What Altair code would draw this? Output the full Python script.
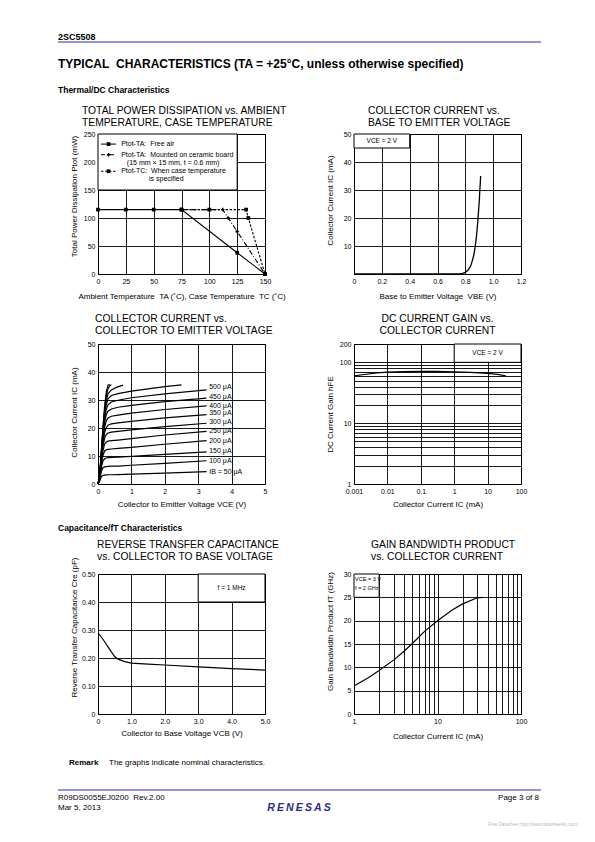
import altair as alt
import pandas as pd

FONT = "Liberation Sans"
NAVY = "#2b2b8c"
W, H = 167, 140
NB = "\u00a0"

# ---------------- data ----------------
# 1. Total power dissipation vs temperature
temp_free = [0, 25, 50, 75, 125, 150]
ptot_free = [115, 115, 115, 115, 38, 0]
temp_ceramic = [75, 112, 117, 125, 150]
ptot_ceramic = [115, 115, 100, 76, 0]
temp_case = [75, 100, 133, 135, 150]
ptot_case = [115, 115, 115, 100, 0]
legend_texts = ["Ptot-TA:" + NB + NB + "Free air", "Ptot-TA:" + NB + NB + "Mounted on ceramic board",
                "(15 mm \u00d7 15 mm, t = 0.6 mm)", "Ptot-TC:" + NB + NB + "When case temperature",
                "is specified"]

# 2. IC vs VBE
vbe = [0, 0.76, 0.78, 0.80, 0.82, 0.84, 0.86, 0.87, 0.88, 0.89, 0.90, 0.91]
ic_vbe = [0, 0, 0.2, 0.6, 1.4, 3.0, 6.5, 9.5, 13.5, 19, 26, 35]

# 3. IC vs VCE family (IB in uA)
vce = [0, 0.05, 0.1, 0.15, 0.2, 0.25, 0.3, 0.4, 0.6, 1.0, 2.0, 3.25]
ic_50 = [0, 1.0, 2.6, 3.1, 3.2, 3.25, 3.3, 3.3, 3.35, 3.5, 3.9, 4.4]
ic_100 = [0, 1.5, 4.5, 5.8, 6.1, 6.2, 6.3, 6.35, 6.4, 6.7, 7.4, 8.3]
ic_150 = [0, 1.8, 6.0, 8.3, 9.0, 9.3, 9.4, 9.5, 9.6, 9.9, 10.6, 11.5]
ic_200 = [0, 2.0, 7.0, 10.3, 11.8, 12.2, 12.4, 12.5, 12.7, 13.1, 14.2, 15.5]
ic_250 = [0, 2.2, 7.8, 12.0, 14.3, 15.0, 15.3, 15.5, 15.7, 16.2, 17.5, 18.8]
ic_300 = [0, 2.4, 8.5, 13.5, 16.5, 17.7, 18.2, 18.5, 18.8, 19.3, 20.5, 21.7]
ic_350 = [0, 2.5, 9.0, 14.8, 18.5, 20.2, 21.0, 21.5, 21.8, 22.4, 23.6, 24.8]
ic_400 = [0, 2.6, 9.5, 16.0, 20.5, 22.6, 23.6, 24.2, 24.6, 25.3, 26.6, 27.9]
ic_450 = [0, 2.7, 10.0, 17.0, 22.2, 24.8, 26.0, 26.8, 27.4, 28.1, 29.4, 30.7]
ic_500 = [0, 2.8, 10.4, 17.8, 23.6, 26.8, 28.3, 29.3, 29.9, 30.8, 32.2, 33.6]
vce_550 = [0, 0.05, 0.1, 0.15, 0.2, 0.25, 0.3, 0.4, 0.6, 1.0, 2.0, 2.5]
ic_550 = [0, 2.9, 10.8, 18.5, 24.8, 28.5, 30.4, 31.6, 32.3, 33.2, 34.8, 35.4]
vce_600 = [0, 0.05, 0.1, 0.15, 0.2, 0.25, 0.3, 0.4, 0.55, 0.75]
ic_600 = [0, 3.0, 11.2, 19.2, 26.0, 30.0, 32.2, 33.6, 34.5, 35.3]
vce_650 = [0, 0.05, 0.1, 0.15, 0.2, 0.25, 0.3, 0.35, 0.4]
ic_650 = [0, 3.1, 11.5, 19.8, 27.0, 31.5, 34.0, 35.0, 35.5]
vce_700 = [0, 0.05, 0.1, 0.15, 0.2, 0.25, 0.3, 0.35]
ic_700 = [0, 3.2, 11.8, 20.4, 28.0, 33.0, 35.3, 35.6]
ib_labels = ["500 \u03bcA", "450 \u03bcA", "400 \u03bcA", "350 \u03bcA", "300 \u03bcA",
             "250 \u03bcA", "200 \u03bcA", "150 \u03bcA", "100 \u03bcA", "IB = 50 \u03bcA"]
ib_label_ic = [34.5, 31.2, 28.0, 25.2, 22.3, 19.0, 15.5, 11.9, 8.3, 4.2]

# 4. hFE vs IC
hfe_ic = [0.001, 0.002, 0.005, 0.01, 0.03, 0.1, 0.3, 1, 3, 10, 20, 35]
hfe = [60, 63, 67, 69, 70.5, 71, 71, 70, 68.5, 66, 63.5, 60]

# 5. Cre vs VCB
vcb = [0, 0.1, 0.2, 0.3, 0.4, 0.5, 0.6, 0.8, 1.0, 1.5, 2, 3, 4, 5]
cre = [0.29, 0.275, 0.258, 0.24, 0.222, 0.205, 0.196, 0.187, 0.182, 0.178, 0.175, 0.168, 0.162, 0.157]

# 6. fT vs IC
ft_ic = [1, 1.5, 2, 3, 4, 5, 7, 10, 15, 20, 30, 35]
ft = [6.0, 7.8, 9.3, 11.6, 13.5, 15.1, 17.7, 20.0, 22.3, 23.6, 24.9, 25.0]

# ---------------- helpers ----------------
AX = dict(grid=True, gridColor="black", gridWidth=0.9, gridOpacity=1, domain=False, ticks=False,
          labelFont=FONT, labelFontSize=7, labelColor="black", labelPadding=3, labelFlush=False,
          labelOverlap=False, labelBound=False, titleFont=FONT, titleFontSize=8,
          titleFontWeight="normal", titleColor="black")


def xaxis(vals, title, ty, expr=None):
    kw = dict(AX, values=vals, title=title, titleY=ty, titleBaseline="middle")
    if expr:
        kw["labelExpr"] = expr
    return alt.Axis(**kw)


def yaxis(vals, title, ty, expr=None):
    kw = dict(AX, values=vals, title=title, titleX=-24, titleY=ty, titleBaseline="middle",
              titleAngle=270)
    if expr:
        kw["labelExpr"] = expr
    return alt.Axis(**kw)


def ttl(lines, dx, offset, anchor="start"):
    return alt.TitleParams(text=lines, anchor=anchor, dx=dx, offset=offset, frame="group",
                           font=FONT, fontSize=10.3, fontWeight="normal", color="black",
                           lineHeight=11.5)


def df(xs, ys):
    return pd.DataFrame({"x": xs, "y": ys})


def box(xe, ye, x0, x1, y0, y1):
    d = pd.DataFrame({"x": [x0], "x2": [x1], "y": [y0], "y2": [y1]})
    return alt.Chart(d).mark_rect(fill="white", stroke="black", strokeWidth=1).encode(
        x=xe, x2="x2:Q", y=ye, y2="y2:Q")


def labels(xe, ye, xs, ys, ts, size=7, align="left"):
    d = pd.DataFrame({"x": xs, "y": ys, "t": ts})
    return alt.Chart(d).mark_text(align=align, baseline="middle", font=FONT, fontSize=size,
                                  color="black").encode(x=xe, y=ye, text="t:N")


def curve(xe, ye, xs, ys, width=1.2, dash=None):
    kw = dict(color="black", strokeWidth=width)
    if dash:
        kw["strokeDash"] = dash
    return alt.Chart(df(xs, ys)).mark_line(**kw).encode(x=xe, y=ye)


one = pd.DataFrame({"k": [0]})
HIDDEN = alt.ViewBackground(stroke="transparent")


def txt(s, x, y, size=8, weight="normal", align="left", color="black", style="normal"):
    return alt.Chart(one).mark_text(text=s, align=align, baseline="alphabetic", font=FONT,
                                    fontSize=size, fontWeight=weight, color=color,
                                    fontStyle=style).encode(x=alt.value(x), y=alt.value(y))


def hline(x0, x1, y):
    return alt.Chart(one).mark_rule(color=NAVY, strokeWidth=1).encode(
        x=alt.value(x0), x2=alt.value(x1), y=alt.value(y))


def blank(h):
    return alt.layer(txt(NB, 10, 20)).properties(width=W, height=h, view=HIDDEN)


# ---------------- chart 1 ----------------
x1 = alt.X("x:Q", scale=alt.Scale(domain=[0, 150], nice=False),
           axis=xaxis([0, 25, 50, 75, 100, 125, 150],
                      "Ambient Temperature" + NB + NB + "TA (\u02daC), Case Temperature" + NB + NB + "TC (\u02daC)", 22))
y1 = alt.Y("y:Q", scale=alt.Scale(domain=[0, 250], nice=False),
           axis=yaxis([0, 50, 100, 150, 200, 250], "Total Power Dissipation Ptot (mW)", 62))

leg_y = [232, 213, 183.5]
c1 = alt.layer(
    box(x1, y1, 0, 125, 150, 250),
    curve(x1, y1, temp_case, ptot_case, 1.1, [2.5, 1.5]),
    curve(x1, y1, temp_ceramic, ptot_ceramic, 1.1, [5, 2, 1, 2]),
    curve(x1, y1, temp_free, ptot_free, 1.1),
    alt.Chart(df(temp_free, ptot_free)).mark_point(shape="square", filled=True, size=14,
                                                   color="black", opacity=1).encode(x=x1, y=y1),
    alt.Chart(df(temp_case, ptot_case)).mark_point(shape="square", filled=True, size=14,
                                                   color="black", opacity=1).encode(x=x1, y=y1),
    alt.Chart(df(temp_ceramic, ptot_ceramic)).mark_point(shape="cross", filled=True, size=12,
                                                         color="black", opacity=1).encode(x=x1, y=y1),
    alt.Chart(pd.DataFrame({"x": [2.7], "x2": [16.3], "y": [leg_y[0]]})).mark_rule(
        color="black", strokeWidth=1).encode(x=x1, x2="x2:Q", y=y1),
    alt.Chart(pd.DataFrame({"x": [2.7], "x2": [16.3], "y": [leg_y[1]]})).mark_rule(
        color="black", strokeWidth=1, strokeDash=[4, 2, 1, 2]).encode(x=x1, x2="x2:Q", y=y1),
    alt.Chart(pd.DataFrame({"x": [2.7], "x2": [16.3], "y": [leg_y[2]]})).mark_rule(
        color="black", strokeWidth=1, strokeDash=[2.5, 1.5]).encode(x=x1, x2="x2:Q", y=y1),
    alt.Chart(df([9.5, 9.5], [leg_y[0], leg_y[2]])).mark_point(
        shape="square", filled=True, size=14, color="black", opacity=1).encode(x=x1, y=y1),
    alt.Chart(df([9.5], [leg_y[1]])).mark_point(
        shape="cross", filled=True, size=12, color="black", opacity=1).encode(x=x1, y=y1),
    labels(x1, y1, [20.8, 20.8, 25.9, 20.8, 45.8], [232, 213, 199, 183.5, 169], legend_texts),
).properties(width=W, height=H,
             title=ttl(["TOTAL POWER DISSIPATION vs. AMBIENT", "TEMPERATURE, CASE TEMPERATURE"], -16, 2))

# ---------------- chart 2 ----------------
x2 = alt.X("x:Q", scale=alt.Scale(domain=[0, 1.2], nice=False),
           axis=xaxis([0, 0.2, 0.4, 0.6, 0.8, 1.0, 1.2], "Base to Emitter Voltage" + NB + NB + "VBE (V)", 22,
                      "datum.value == 0 ? '0' : format(datum.value, '.1f')"))
y2 = alt.Y("y:Q", scale=alt.Scale(domain=[0, 50], nice=False),
           axis=yaxis([10, 20, 30, 40, 50], "Collector Current IC (mA)", 66))
c2 = alt.layer(
    box(x2, y2, 0, 0.4, 45, 50),
    labels(x2, y2, [0.2], [47.5], ["VCE = 2 V"], size=6.5, align="center"),
    curve(x2, y2, vbe, ic_vbe, 1.3),
).properties(width=W, height=H,
             title=ttl(["COLLECTOR CURRENT vs.", "BASE TO EMITTER VOLTAGE"], 14, 2))

# ---------------- chart 3 ----------------
x3 = alt.X("x:Q", scale=alt.Scale(domain=[0, 5], nice=False),
           axis=xaxis([0, 1, 2, 3, 4, 5], "Collector to Emitter Voltage VCE (V)", 20))
y3 = alt.Y("y:Q", scale=alt.Scale(domain=[0, 50], nice=False),
           axis=yaxis([0, 10, 20, 30, 40, 50], "Collector Current IC (mA)", 68))
families = [(vce, ic_50), (vce, ic_100), (vce, ic_150), (vce, ic_200), (vce, ic_250),
            (vce, ic_300), (vce, ic_350), (vce, ic_400), (vce, ic_450), (vce, ic_500),
            (vce_550, ic_550), (vce_600, ic_600), (vce_650, ic_650), (vce_700, ic_700)]
rows = []
for k, (xs, ys) in enumerate(families):
    for i, (a, b) in enumerate(zip(xs, ys)):
        rows.append({"x": a, "y": b, "s": k, "i": i})
fam_df = pd.DataFrame(rows)
c3 = alt.layer(
    alt.Chart(fam_df).mark_line(color="black", strokeWidth=1.2).encode(
        x=x3, y=y3, detail="s:N", order="i:Q"),
    labels(x3, y3, [3.33] * 10, ib_label_ic, ib_labels),
).properties(width=W, height=H,
             title=ttl(["COLLECTOR CURRENT vs.", "COLLECTOR TO EMITTER VOLTAGE"], -3, 4))

# ---------------- chart 4 ----------------
x4 = alt.X("x:Q", scale=alt.Scale(type="log", domain=[0.001, 100], nice=False),
           axis=xaxis([0.001, 0.01, 0.1, 1, 10, 100], "Collector Current IC (mA)", 20,
                      "format(datum.value, '~g')"))
hfe_grid = [1, 2, 3, 4, 5, 6, 7, 8, 9, 10, 20, 30, 40, 50, 60, 70, 80, 90, 100, 200]
y4 = alt.Y("y:Q", scale=alt.Scale(type="log", domain=[1, 200], nice=False),
           axis=yaxis(hfe_grid, "DC Current Gain hFE", 70,
                      "indexof([1, 10, 100, 200], datum.value) >= 0 ? format(datum.value, '~g') : ''"))
c4 = alt.layer(
    box(x4, y4, 1, 100, 100, 200),
    labels(x4, y4, [10], [141], ["VCE = 2 V"], size=6.5, align="center"),
    curve(x4, y4, hfe_ic, hfe, 1.2),
).properties(width=W, height=H,
             title=ttl(["DC CURRENT GAIN vs.", "COLLECTOR CURRENT"], 0, 4, anchor="middle"))

# ---------------- chart 5 ----------------
x5 = alt.X("x:Q", scale=alt.Scale(domain=[0, 5], nice=False),
           axis=xaxis([0, 1, 2, 3, 4, 5], "Collector to Base Voltage VCB (V)", 19,
                      "datum.value == 0 ? '0' : format(datum.value, '.1f')"))
y5 = alt.Y("y:Q", scale=alt.Scale(domain=[0, 0.5], nice=False),
           axis=yaxis([0, 0.1, 0.2, 0.3, 0.4, 0.5], "Reverse Transfer Capacitance Cre (pF)", 53,
                      "datum.value == 0 ? '0' : format(datum.value, '.2f')"))
c5 = alt.layer(
    box(x5, y5, 3, 5, 0.4, 0.5),
    labels(x5, y5, [4.0], [0.45], ["f = 1 MHz"], size=6.5, align="center"),
    curve(x5, y5, vcb, cre, 1.2),
).properties(width=W, height=H,
             title=ttl(["REVERSE TRANSFER CAPACITANCE", "vs. COLLECTOR TO BASE VOLTAGE"], -1, -5))

# ---------------- chart 6 ----------------
ft_grid = [1, 2, 3, 4, 5, 6, 7, 8, 9, 10, 20, 30, 40, 50, 60, 70, 80, 90, 100]
x6 = alt.X("x:Q", scale=alt.Scale(type="log", domain=[1, 100], nice=False),
           axis=xaxis(ft_grid, "Collector Current IC (mA)", 22,
                      "indexof([1, 10, 100], datum.value) >= 0 ? format(datum.value, '~g') : ''"))
y6 = alt.Y("y:Q", scale=alt.Scale(domain=[0, 30], nice=False),
           axis=yaxis([0, 5, 10, 15, 20, 25, 30], "Gain Bandwidth Product fT (GHz)", 57))
c6 = alt.layer(
    box(x6, y6, 1, 2, 25, 30),
    labels(x6, y6, [1.03, 1.03], [28.9, 27.1], ["VCE = 3 V", "f = 2 GHz"], size=5.5),
    curve(x6, y6, ft_ic, ft, 1.2),
).properties(width=W, height=H,
             title=ttl(["GAIN BANDWIDTH PRODUCT", "vs. COLLECTOR CURRENT"], 17, 8))

# ---------------- page text blocks ----------------
header = alt.layer(
    txt("2SC5508", -40, 30.5, 9, "bold"),
    hline(-40, 443, 33),
    txt("TYPICAL" + NB + NB + "CHARACTERISTICS (TA = +25\u00b0C, unless otherwise specified)", -40, 59, 12, "bold"),
    txt("Thermal/DC Characteristics", -40, 84, 8.5, "bold"),
).properties(width=W, height=125, view=HIDDEN)

section = alt.layer(
    txt("Capacitance/fT Characteristics", -40, 47, 8.5, "bold"),
).properties(width=W, height=90, view=HIDDEN)

footer = alt.layer(
    txt("Remark", -29, 51, 8, "bold"),
    txt("The graphs indicate nominal characteristics.", 11, 51, 8),
    hline(-40, 443, 76),
    txt("R09DS0055EJ0200" + NB + NB + "Rev.2.00", -40, 86, 8),
    txt("Mar 5, 2013", -40, 96, 8),
    txt("Page 3 of 8", 441, 86, 8, align="right"),
    txt("R\u2009E\u2009N\u2009E\u2009S\u2009A\u2009S", 201, 97, 10.5, "bold", "center", NAVY, "italic"),
    txt("Free Datasheet http://www.datasheet4u.com/", 480, 112, 4.5, align="right", color="#bbbbbb"),
).properties(width=W, height=100, view=HIDDEN)

chart = alt.concat(
    header, blank(125),
    c1, c2,
    blank(70), blank(70),
    c3, c4,
    section, blank(90),
    c5, c6,
    footer, blank(100),
    columns=2, spacing={"row": 0, "column": 89}, bounds="flush",
).properties(
    padding={"left": 49, "top": 0, "right": 5, "bottom": 0}
).configure(font=FONT).configure_view(stroke="black", strokeWidth=1)

chart.save("out.html", embed_options={"renderer": "svg", "actions": False})
